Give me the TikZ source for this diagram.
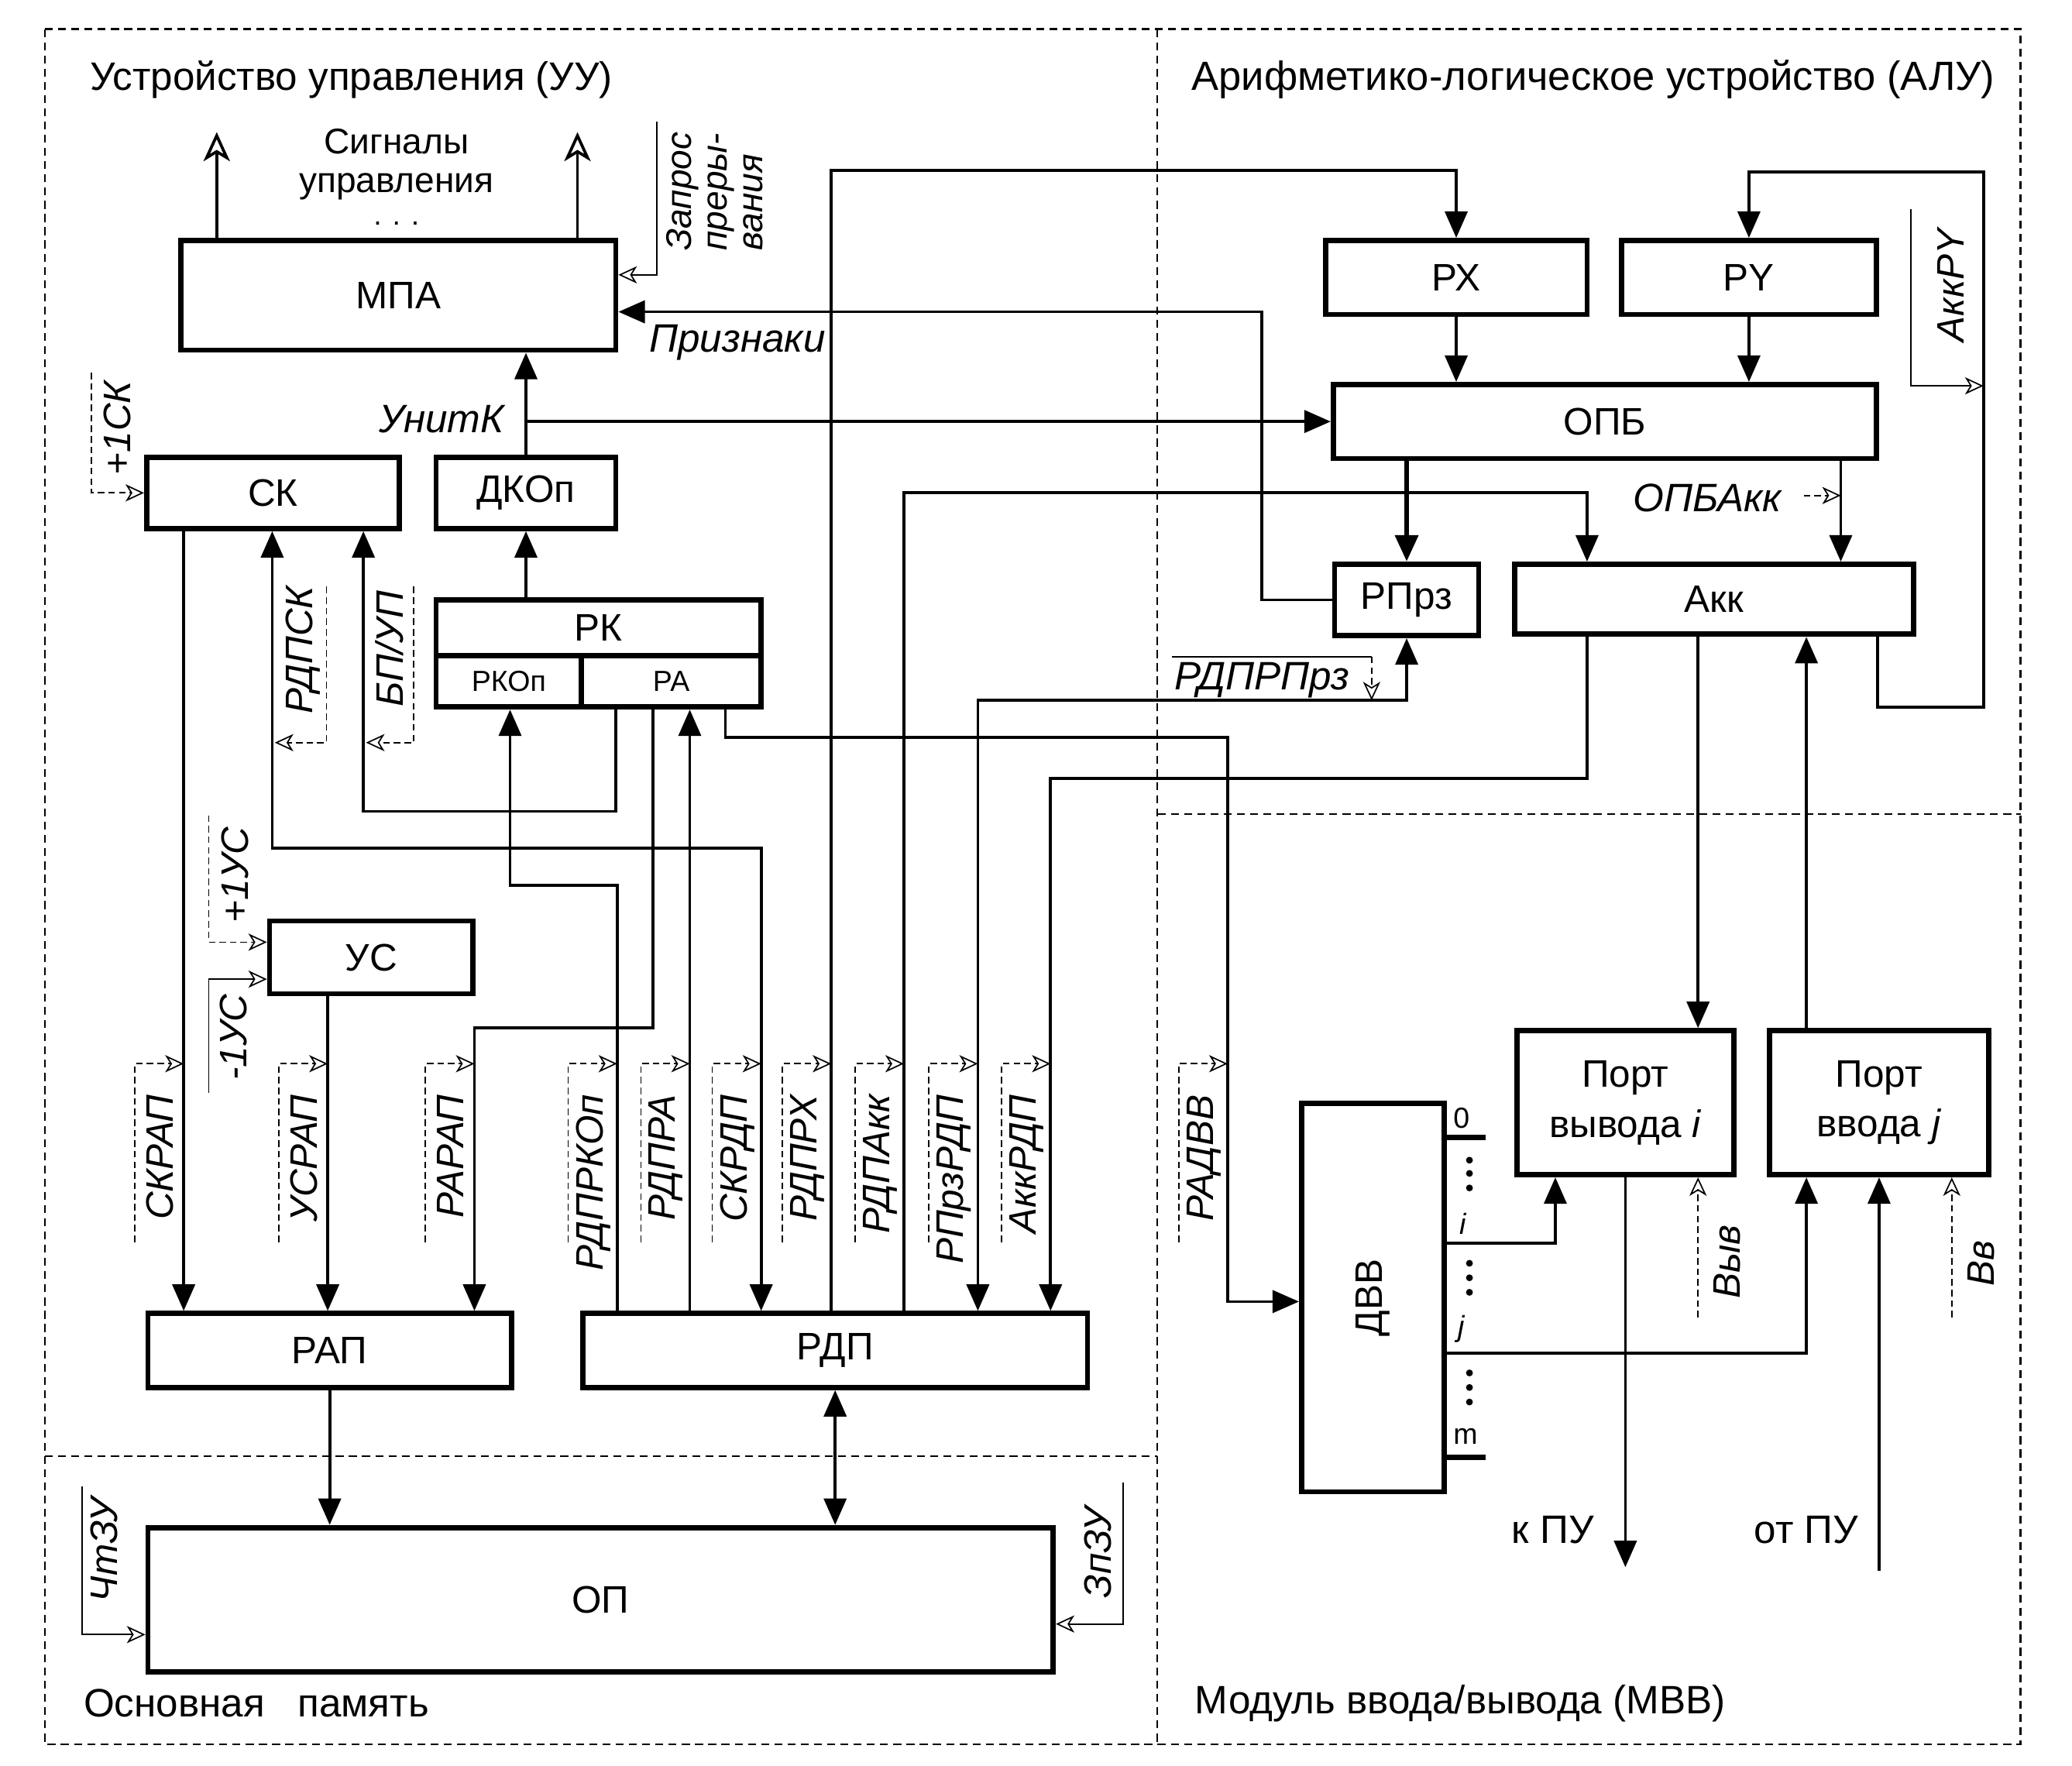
\documentclass[tikz,border=0pt]{standalone}
\usepackage{fontspec}
\setmainfont{Liberation Sans}
\usepackage{graphicx}
\usetikzlibrary{arrows.meta}

\tikzset{
  region/.style={line width=0.6pt, dash pattern=on 3pt off 2pt},
  blk/.style={draw, line width=2pt, inner sep=0pt, align=center, font=\fontsize{14.5}{19}\selectfont},
  small/.style={font=\fontsize{11}{13}\selectfont},
  bus/.style={line width=1.1pt},
  farr/.style={-{Triangle[length=10pt,width=8.5pt]}},
  darr/.style={{Triangle[length=10pt,width=8.5pt]}-{Triangle[length=10pt,width=8.5pt]}},
  oarr/.style={-{Stealth[open,length=11pt,width=10pt,inset=3pt]}},
  sigd/.style={line width=0.5pt, dash pattern=on 2.5pt off 1.5pt, -{Stealth[open,length=7pt,width=6.5pt,inset=2pt]}},
  sigs/.style={line width=0.5pt, -{Stealth[open,length=7pt,width=6.5pt,inset=2pt]}},
  siglab/.style={rotate=90, inner sep=0pt, font=\fontsize{14.5}{13.5}\selectfont\itshape},
  lab/.style={inner sep=0pt, font=\fontsize{15}{17}\selectfont\itshape},
  txt/.style={inner sep=0pt, font=\fontsize{15}{17}\selectfont},
}

\begin{document}
\begin{tikzpicture}[x=0.5pt,y=-0.5pt]
	\useasboundingbox (0,0) rectangle (1568,1336);

	% areas
	\draw[region] (34,22) rectangle (1529,1320);
	\draw[region] (876,22) -- (876,1320);
	\draw[region] (34,1102) -- (876,1102);
	\draw[region] (876,616) -- (1529,616);

	\node[txt, anchor=west] (tuu) at (68,60) {Устройство управления (УУ)};
	\node[txt, anchor=east, font=\fontsize{15.4}{17}\selectfont] (talu) at (1510,60) {Арифметико-логическое устройство (АЛУ)};
	\node[txt, anchor=west] (top) at (63,1289) {Основная \ \ память};
	\node[txt, anchor=west] (tmvv) at (904,1289) {Модуль ввода/вывода (МВВ)};

	% blocks
	\node[blk, minimum width=164.5pt, minimum height=41.5pt] (mpa) at (301.5,223.5) {МПА};
	\node[blk, minimum width=95.5pt, minimum height=27pt] (sk) at (206.5,373) {СК};
	\node[blk, minimum width=68pt, minimum height=27pt] (dkop) at (398,373) {ДКОп};
	\node[blk, minimum width=123pt, minimum height=21pt] (rk) at (453,475) {РК};
	\node[blk, small, minimum width=55pt, minimum height=19.5pt] (rkop) at (385,515.5) {РКОп};
	\node[blk, small, minimum width=68pt, minimum height=19.5pt] (ra) at (508,515.5) {РА};
	\node[blk, minimum width=77pt, minimum height=27.5pt] (us) at (281,724.5) {УС};
	\node[blk, minimum width=137.5pt, minimum height=28pt] (rap) at (249.5,1022) {РАП};
	\node[blk, minimum width=191pt, minimum height=28pt] (rdp) at (632,1022) {РДП};
	\node[blk, minimum width=342.5pt, minimum height=54.5pt] (op) at (454.5,1210.5) {ОП};
	\node[blk, minimum width=99pt, minimum height=28pt] (rx) at (1102,210) {РХ};
	\node[blk, minimum width=96.5pt, minimum height=28pt] (ry) at (1323.5,210) {РY};
	\node[blk, minimum width=205.5pt, minimum height=28pt] (opb) at (1214.5,319) {ОПБ};
	\node[blk, minimum width=54.5pt, minimum height=27pt] (rprz) at (1064.5,454) {РПрз};
	\node[blk, minimum width=151pt, minimum height=26.5pt] (akk) at (1297,453.5) {Акк};
	\node[blk, minimum width=54pt, minimum height=147pt] (dvv) at (1039,982) {\rotatebox{90}{ДВВ}};
	\node[blk, minimum width=82pt, minimum height=54.5pt] (pout) at (1230,834.5) {Порт\\вывода \textit{i}};
	\node[blk, minimum width=83pt, minimum height=54.5pt] (pin) at (1422,834.5) {Порт\\ввода \textit{j}};

	% control unit
	\draw[bus, oarr] (mpa.north -| 164,0) -- (164,100);
	\draw[bus, oarr] (mpa.north -| 437,0) -- (437,100);
	\node[txt, font=\fontsize{13.5}{14}\selectfont] (sig1) at (300,107) {Сигналы};
	\node[txt, font=\fontsize{13.5}{14}\selectfont] (sig2) at (300,141) {управления};
	\node[txt, font=\fontsize{11}{11}\selectfont] (sig3) at (300,169) {. . .};
	\draw[sigs] (497,92) -- (497,208) -- (mpa.east |- 0,208);
	\node[siglab, align=left, anchor=north west, font=\fontsize{13.5}{13.5}\selectfont\itshape] (zapr) at (504,190) {Запрос\\преры-\\вания};

	\draw[bus, farr] (rprz.west) -- (955,454) -- (955,236) -- (mpa.east |- 0,236);
	\node[lab] (prizn) at (558,259) {Признаки};
	\draw[bus, farr] (dkop.north) -- (mpa.south -| dkop.north);
	\draw[bus, farr] (dkop.north |- opb.west) -- (opb.west);
	\node[lab] (unitk) at (334,317) {УнитК};
	\draw[bus, farr] (rk.north -| dkop.south) -- (dkop.south);

	\draw[sigd] (69,282) -- (69,373) -- (sk.west);
	\node[siglab] (p1sk) at (89,324) {+1СК};

	\draw[bus, farr] (sk.south -| 139,0) -- (rap.north -| 139,0);
	\draw[bus, darr] (sk.south -| 206,0) -- (206,642) -- (576,642) -- (rdp.north -| 576,0);
	\draw[bus, farr] (ra.south -| 466,0) -- (466,614) -- (275,614) -- (sk.south -| 275,0);
	\draw[bus, farr] (rdp.north -| 467,0) -- (467,670) -- (386,670) -- (rkop.south -| 386,0);
	\draw[bus, farr] (ra.south -| 494,0) -- (494,778) -- (359,778) -- (rap.north -| 359,0);
	\draw[bus, farr] (rdp.north -| 522,0) -- (ra.south -| 522,0);
	\draw[bus, farr] (ra.south -| 549,0) -- (549,558) -- (929,558) -- (929,985) -- (dvv.west |- 0,985);
	\draw[bus, farr] (us.south -| 248,0) -- (rap.north -| 248,0);

	\draw[sigd] (247,444) -- (247,562) -- (208,562);
	\node[siglab] (rdpsk) at (229,492) {РДПСК};
	\draw[sigd] (313,444) -- (313,562) -- (277,562);
	\node[siglab] (bpup) at (295,491) {БП/УП};

	\draw[sigd] (158,617) -- (158,713) -- (us.west |- 0,713);
	\node[siglab] (p1us) at (178,662) {+1УС};
	\draw[sigs] (158,827) -- (158,741) -- (us.west |- 0,741);
	\node[siglab] (m1us) at (177,785) {-1УС};

	% links to the ALU
	\draw[bus, farr] (rdp.north -| 629,0) -- (629,129) -- (1102,129) -- (rx.north);
	\draw[bus, farr] (rdp.north -| 684,0) -- (684,373) -- (1201,373) -- (akk.north -| 1201,0);
	\draw[bus, darr] (rprz.south) -- (1064.5,530) -- (740,530) -- (rdp.north -| 740,0);
	\draw[bus, farr] (akk.south -| 1201,0) -- (1201,589) -- (795,589) -- (rdp.north -| 795,0);

	\foreach \c/\t in {139/СКРАП, 248/УСРАП, 359/РАРАП, 467/РДПРКОп, 522/РДПРА, 576/СКРДП, 629/РДПРХ, 684/РДПАкк, 740/РПрзРДП, 795/АккРДП, 929/РАДВВ}{
		\draw[sigd] (\c-37,940) -- (\c-37,805) -- (\c,805);
		\node[siglab, anchor=east] (s\c) at (\c-18,828) {\t};
	}

	% memory
	\draw[bus, farr] (rap.south) -- (op.north -| rap.south);
	\draw[bus, darr] (rdp.south) -- (op.north -| rdp.south);
	\draw[sigs] (62,1125) -- (62,1237) -- (op.west |- 0,1237);
	\node[siglab] (chtzu) at (79,1173) {ЧтЗУ};
	\draw[sigs] (850,1122) -- (850,1229) -- (op.east |- 0,1229);
	\node[siglab] (zpzu) at (831,1175) {ЗпЗУ};

	% ALU
	\draw[bus, farr] (rx.south) -- (opb.north -| rx.south);
	\draw[bus, farr] (ry.south) -- (opb.north -| ry.south);
	\draw[line width=2pt, farr] (opb.south -| rprz.north) -- (rprz.north);
	\draw[bus, farr] (opb.south -| 1393,0) -- (akk.north -| 1393,0);
	\draw[sigd] (1365,375) -- (1393,375);
	\node[lab] (opbakk) at (1292,377) {ОПБАкк};
	\draw[bus, farr] (akk.south -| 1421,0) -- (1421,535) -- (1501,535) -- (1501,130) -- (1323.5,130) -- (ry.north);
	\draw[sigs] (1446,158) -- (1446,292) -- (1501,292);
	\node[siglab] (akkry) at (1476,216) {АккРY};
	\draw[sigs, -] (887,497) -- (1038,497);
	\draw[sigd] (1038,497) -- (1038,530);
	\node[lab] (rdprprz) at (955,515) {РДПРПрз};

	% input/output
	\draw[bus, farr] (akk.south -| 1285,0) -- (pout.north -| 1285,0);
	\draw[bus, farr] (pin.north -| 1367,0) -- (akk.south -| 1367,0);
	\draw[bus, farr] (pout.south) -- (1230,1186);
	\draw[bus, farr] (1422,1189) -- (pin.south);
	\node[txt] (kpu) at (1175,1158) {к ПУ};
	\node[txt] (otpu) at (1367,1158) {от ПУ};
	\draw[line width=2pt] (dvv.east |- 0,861) -- (1124,861);
	\draw[line width=2pt] (dvv.east |- 0,1103) -- (1124,1103);
	\draw[bus, farr] (dvv.east |- 0,941) -- (1177,941) -- (pout.south -| 1177,0);
	\draw[bus, farr] (dvv.east |- 0,1024) -- (1367,1024) -- (pin.south -| 1367,0);
	\foreach \y in {878,888,899,956,967,978,1039,1050,1061}
		\fill (1112,\y) circle (1.3pt);
	\node[txt, small] (n0) at (1106,846) {0};
	\node[txt, small] (ni) at (1107,926) {\itshape i};
	\node[txt, small] (nj) at (1106,1006) {\itshape j};
	\node[txt, small] (nm) at (1109,1087) {m};
	\draw[sigd] (1285,997) -- (pout.south -| 1285,0);
	\node[siglab] (vyv) at (1307,955) {Выв};
	\draw[sigd] (1477,997) -- (pin.south -| 1477,0);
	\node[siglab] (vv) at (1499,956) {Вв};
\end{tikzpicture}
\end{document}
